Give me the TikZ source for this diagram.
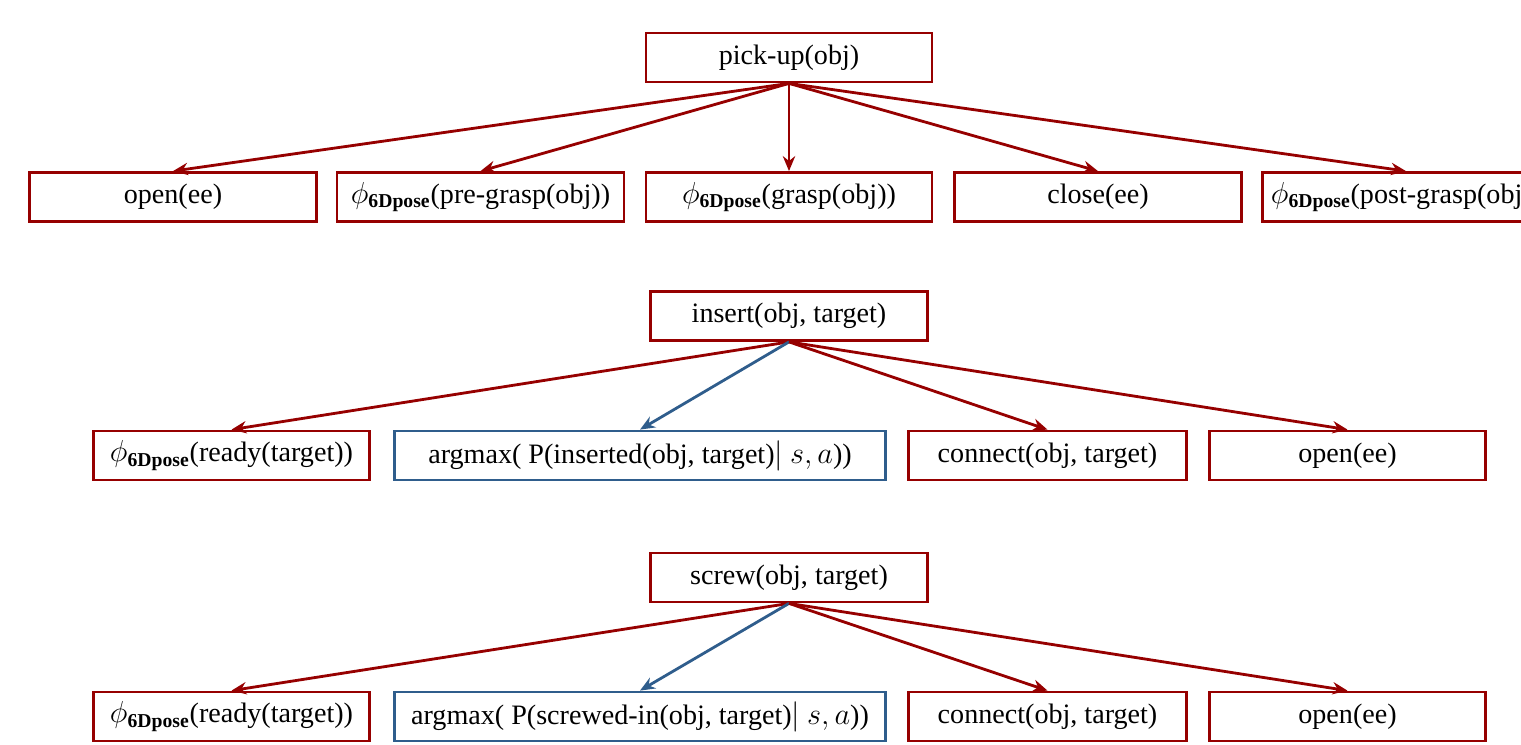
\documentclass[tikz,border=0pt]{standalone}
\usepackage{amsmath}
\usepackage{fontspec}
\setmainfont{Liberation Serif}
\usetikzlibrary{arrows.meta}

\definecolor{darkred}{RGB}{150,0,0}
\definecolor{steelblue}{RGB}{47,93,140}

\tikzset{
  act/.style={draw=darkred, line width=1.6pt, inner sep=0pt, minimum height=0.98cm,
    font=\fontsize{16}{18}\selectfont},
  learned/.style={act, draw=steelblue},
  edge/.style={darkred, line width=1.6pt, -{Stealth[length=8.5pt,width=7pt]}},
  learnededge/.style={edge, steelblue}
}

\newcommand{\phipose}{$\phi_{\text{\bfseries 6Dpose}}$}

\begin{document}
\begin{tikzpicture}[x=0.02cm, y=-0.02cm]

\useasboundingbox (0,0) rectangle (1521,744);
\clip (0,0) rectangle (1521,744);

\node[act, minimum width=5.72cm] (pick) at (789,57.5){pick-up(obj)};
\node[act, minimum width=5.74cm] (open1) at (173,197){open(ee)};
\node[act, minimum width=5.74cm] (pre) at (480.5,197){\phipose(pre-grasp(obj))};
\node[act, minimum width=5.72cm] (grasp) at (789,197){\phipose(grasp(obj))};
\node[act, minimum width=5.74cm] (close) at (1098,197){close(ee)};
\node[act, minimum width=5.74cm] (post) at (1406,197){\phipose(post-grasp(obj))};
\draw[edge] (pick.south) -- (open1.north);
\draw[edge] (pick.south) -- (pre.north);
\draw[edge] (pick.south) -- (grasp.north);
\draw[edge] (pick.south) -- (close.north);
\draw[edge] (pick.south) -- (post.north);

\node[act, minimum width=5.54cm] (insert) at (789,316){insert(obj, target)};
\node[act, minimum width=5.52cm] (ready1) at (231.5,455.5){\phipose(ready(target))};
\node[learned, minimum width=9.82cm] (argmax1) at (640,455.5){argmax( P(inserted(obj, target)$|$ $s, a$))};
\node[act, minimum width=5.56cm] (connect1) at (1047.5,455.5){connect(obj, target)};
\node[act, minimum width=5.52cm] (open2) at (1347.5,455.5){open(ee)};
\draw[edge] (insert.south) -- (ready1.north);
\draw[learnededge] (insert.south) -- (argmax1.north);
\draw[edge] (insert.south) -- (connect1.north);
\draw[edge] (insert.south) -- (open2.north);

\node[act, minimum width=5.54cm] (screw) at (789,577.5){screw(obj, target)};
\node[act, minimum width=5.52cm] (ready2) at (231.5,716.5){\phipose(ready(target))};
\node[learned, minimum width=9.82cm] (argmax2) at (640,716.5){argmax( P(screwed-in(obj, target)$|$ $s, a$))};
\node[act, minimum width=5.56cm] (connect2) at (1047.5,716.5){connect(obj, target)};
\node[act, minimum width=5.52cm] (open3) at (1347.5,716.5){open(ee)};
\draw[edge] (screw.south) -- (ready2.north);
\draw[learnededge] (screw.south) -- (argmax2.north);
\draw[edge] (screw.south) -- (connect2.north);
\draw[edge] (screw.south) -- (open3.north);

\end{tikzpicture}
\end{document}
